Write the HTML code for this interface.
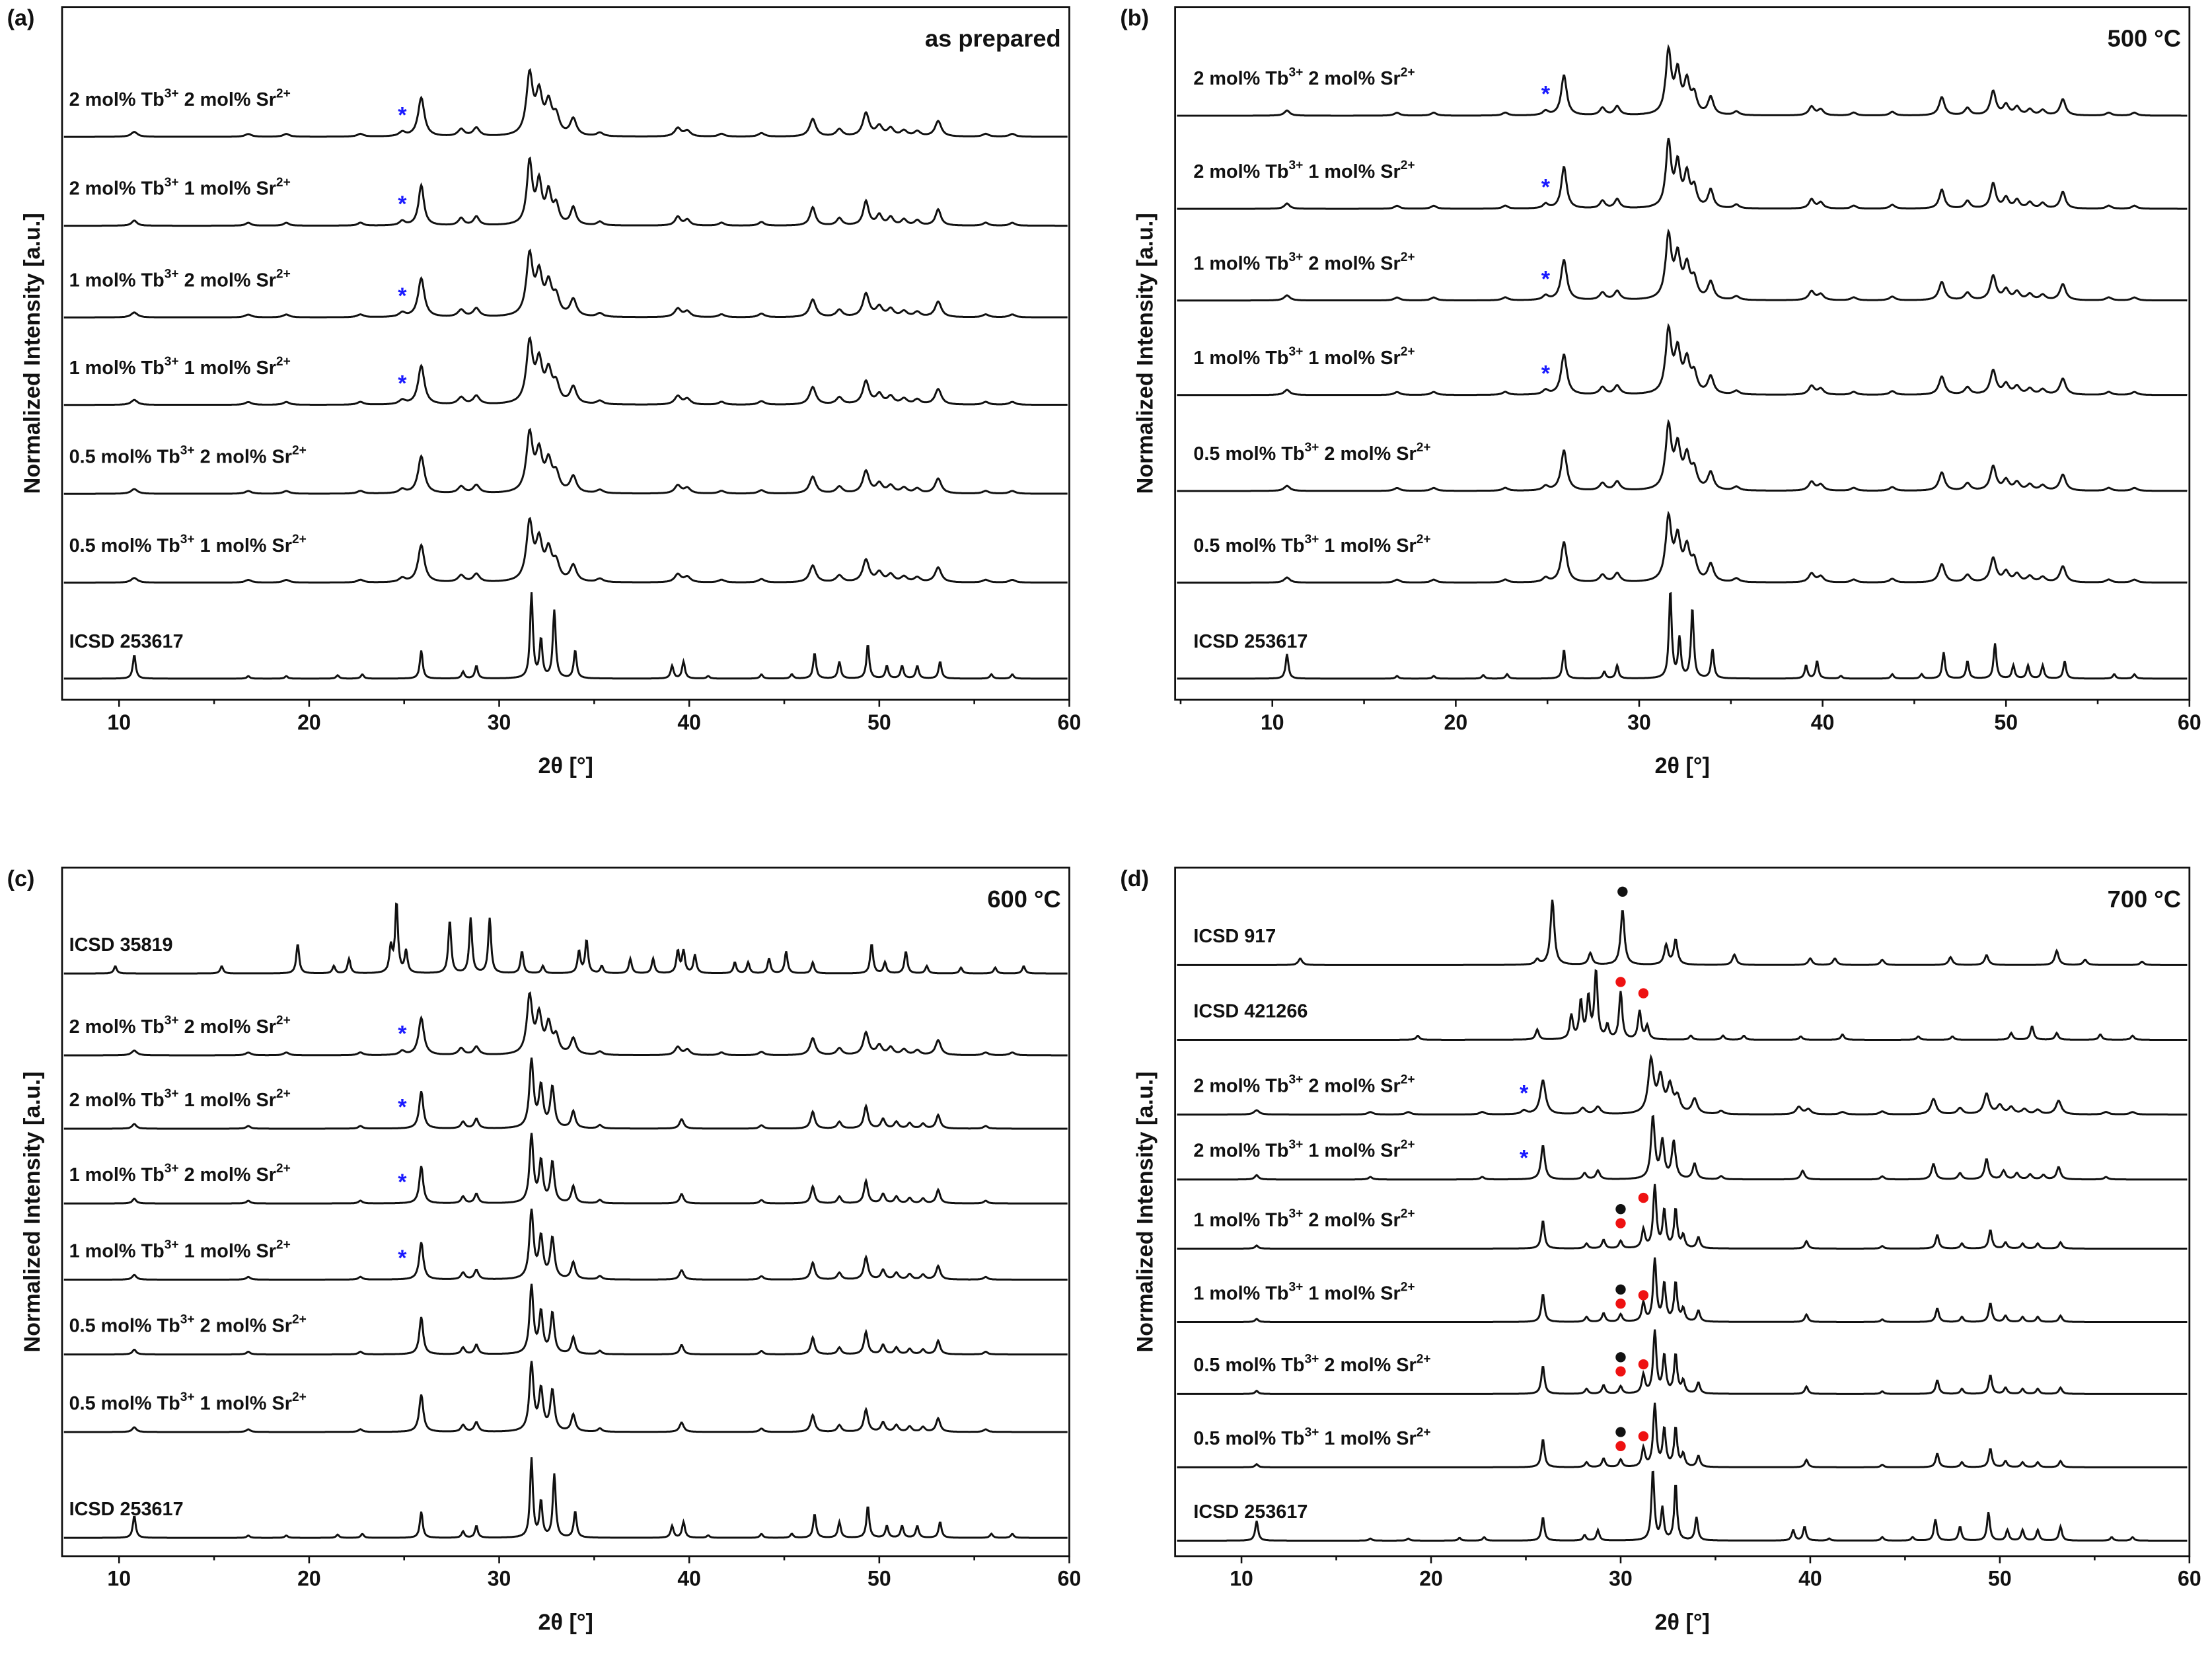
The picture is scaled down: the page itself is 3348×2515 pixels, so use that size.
<!DOCTYPE html>
<html><head><meta charset="utf-8">
<style>
html,body{margin:0;padding:0;background:#fff;}
svg{display:block;}
text{font-family:"Liberation Sans",Arial,sans-serif;font-weight:bold;fill:#111;}
</style></head>
<body>
<svg id="fig" xmlns="http://www.w3.org/2000/svg" width="3348" height="2515" viewBox="0 0 1568 1178" preserveAspectRatio="none"></svg>
<script>
// ---- data: peak positions (2theta) and relative heights ----
const xTicks = [10, 20, 30, 40, 50, 60];
const xTickLabels = ["10", "20", "30", "40", "50", "60"];

const icsd253617Pos = [10.8,16.8,18.8,21.5,22.8,25.9,28.1,28.8,31.7,32.2,32.9,34.0,39.1,39.7,41.0,43.8,45.4,46.6,47.9,49.4,50.4,51.2,52.0,53.2,55.9,57.0];
const icsd253617H   = [0.28,0.03,0.03,0.04,0.05,0.33,0.08,0.15,1.0,0.45,0.8,0.33,0.15,0.2,0.03,0.05,0.05,0.3,0.2,0.4,0.15,0.15,0.15,0.2,0.05,0.05];

const sampleBroadPos = [10.8,16.8,18.8,22.7,24.9,25.9,28.0,28.8,31.6,32.1,32.6,33.0,33.9,35.3,39.4,39.9,41.7,43.8,46.5,47.9,49.3,50.0,50.6,51.3,52.0,53.1,55.6,57.0];
const sampleBroadH   = [0.07,0.04,0.04,0.04,0.06,0.55,0.1,0.12,0.85,0.55,0.42,0.25,0.24,0.05,0.12,0.08,0.04,0.05,0.25,0.1,0.33,0.14,0.11,0.08,0.07,0.22,0.04,0.04];

const sampleSharpPos = [10.8,16.8,22.7,25.9,28.1,28.8,31.7,32.2,32.8,33.9,35.3,39.6,43.8,46.5,47.9,49.3,50.2,50.9,51.6,52.3,53.1,55.6];
const sampleSharpH   = [0.07,0.04,0.04,0.55,0.1,0.14,1.0,0.6,0.6,0.25,0.05,0.14,0.05,0.25,0.1,0.33,0.14,0.1,0.08,0.07,0.2,0.04];

const sample700Pos = [10.8,25.9,28.2,29.1,30.0,31.2,31.8,32.3,32.9,33.3,34.1,39.8,43.8,46.7,48.0,49.5,50.3,51.2,52.0,53.2];
const sample700H   = [0.05,0.45,0.08,0.14,0.12,0.3,1.0,0.6,0.62,0.2,0.18,0.12,0.04,0.22,0.08,0.3,0.1,0.08,0.08,0.1];

const icsd35819Pos = [9.8,15.4,19.4,21.3,22.1,24.3,24.6,25.1,27.4,28.5,29.5,31.2,32.3,34.2,34.6,35.4,36.9,38.1,39.4,39.7,40.3,42.4,43.1,44.2,45.1,46.5,49.6,50.3,51.4,52.5,54.3,56.1,57.6];
const icsd35819H   = [0.1,0.1,0.4,0.1,0.2,0.35,0.95,0.3,0.72,0.75,0.75,0.3,0.1,0.3,0.45,0.1,0.2,0.2,0.3,0.3,0.25,0.15,0.15,0.2,0.3,0.15,0.4,0.15,0.3,0.1,0.08,0.08,0.1];

const icsd917Pos = [13.1,25.6,26.4,28.4,30.1,32.4,32.9,36.0,40.0,41.3,43.8,47.4,49.3,53.0,54.5,57.5];
const icsd917H   = [0.1,0.08,1.0,0.18,0.85,0.3,0.38,0.16,0.1,0.1,0.08,0.12,0.15,0.22,0.08,0.05];

const icsd421266Pos = [19.3,25.6,27.4,27.9,28.3,28.7,29.3,30.0,31.0,31.4,33.7,35.4,36.5,39.5,41.7,45.7,47.5,50.6,51.7,53.0,55.3,57.0];
const icsd421266H   = [0.06,0.15,0.35,0.55,0.6,1.0,0.2,0.7,0.42,0.2,0.06,0.06,0.06,0.05,0.08,0.05,0.05,0.1,0.2,0.1,0.08,0.06];

// ---- rendering ----
const NS = "http://www.w3.org/2000/svg";
const svg = document.getElementById("fig");
function mk(tag, attrs, parent){const e=document.createElementNS(NS,tag);for(const k in attrs)e.setAttribute(k,attrs[k]);(parent||svg).appendChild(e);return e;}

function profile(pos, h, w, x0, x1){
  const pts=[];
  for(let x=x0;x<=x1+1e-9;x+=0.04){
    let y=0;
    for(let i=0;i<pos.length;i++){const d=(x-pos[i])/w;y+=h[i]/(1+d*d);}
    pts.push([x,y]);
  }
  return pts;
}

const panels = [
  {id:"a",L:44,R:758,T:5,B:496,x0:7,x1:60,title:"as prepared",
   traces:[
    ["2 mol% Tb","2 mol% Sr",97,sampleBroadPos,sampleBroadH,0.2,50,true],
    ["2 mol% Tb","1 mol% Sr",160,sampleBroadPos,sampleBroadH,0.17,52,true],
    ["1 mol% Tb","2 mol% Sr",225,sampleBroadPos,sampleBroadH,0.2,50,true],
    ["1 mol% Tb","1 mol% Sr",287,sampleBroadPos,sampleBroadH,0.2,50,true],
    ["0.5 mol% Tb","2 mol% Sr",350,sampleBroadPos,sampleBroadH,0.2,48,false],
    ["0.5 mol% Tb","1 mol% Sr",413,sampleBroadPos,sampleBroadH,0.2,48,false],
    ["ICSD 253617",null,481,icsd253617Pos,icsd253617H,0.09,60,false]]},
  {id:"b",L:833,R:1552,T:5,B:496,x0:4.7,x1:60,title:"500 °C",
   traces:[
    ["2 mol% Tb","2 mol% Sr",82,sampleBroadPos,sampleBroadH,0.18,52,true],
    ["2 mol% Tb","1 mol% Sr",148,sampleBroadPos,sampleBroadH,0.17,54,true],
    ["1 mol% Tb","2 mol% Sr",213,sampleBroadPos,sampleBroadH,0.19,52,true],
    ["1 mol% Tb","1 mol% Sr",280,sampleBroadPos,sampleBroadH,0.19,52,true],
    ["0.5 mol% Tb","2 mol% Sr",348,sampleBroadPos,sampleBroadH,0.19,52,false],
    ["0.5 mol% Tb","1 mol% Sr",413,sampleBroadPos,sampleBroadH,0.19,52,false],
    ["ICSD 253617",null,481,icsd253617Pos,icsd253617H,0.09,62,false]]},
  {id:"c",L:44,R:758,T:615,B:1103,x0:7,x1:60,title:"600 °C",
   traces:[
    ["ICSD 35819",null,690,icsd35819Pos,icsd35819H,0.09,52,false],
    ["2 mol% Tb","2 mol% Sr",748,sampleBroadPos,sampleBroadH,0.17,48,true],
    ["2 mol% Tb","1 mol% Sr",800,sampleSharpPos,sampleSharpH,0.13,48,true],
    ["1 mol% Tb","2 mol% Sr",853,sampleSharpPos,sampleSharpH,0.12,48,true],
    ["1 mol% Tb","1 mol% Sr",907,sampleSharpPos,sampleSharpH,0.13,48,true],
    ["0.5 mol% Tb","2 mol% Sr",960,sampleSharpPos,sampleSharpH,0.12,48,false],
    ["0.5 mol% Tb","1 mol% Sr",1015,sampleSharpPos,sampleSharpH,0.13,48,false],
    ["ICSD 253617",null,1090,icsd253617Pos,icsd253617H,0.09,56,false]]},
  {id:"d",L:833,R:1552,T:615,B:1103,x0:6.5,x1:60,title:"700 °C",
   traces:[
    ["ICSD 917",null,684,icsd917Pos,icsd917H,0.12,46,false],
    ["ICSD 421266",null,737,icsd421266Pos,icsd421266H,0.1,48,false],
    ["2 mol% Tb","2 mol% Sr",790,sampleBroadPos,sampleBroadH,0.17,44,true],
    ["2 mol% Tb","1 mol% Sr",836,sampleSharpPos,sampleSharpH,0.12,44,true],
    ["1 mol% Tb","2 mol% Sr",885,sample700Pos,sample700H,0.1,44,false],
    ["1 mol% Tb","1 mol% Sr",937,sample700Pos,sample700H,0.1,44,false],
    ["0.5 mol% Tb","2 mol% Sr",988,sample700Pos,sample700H,0.1,44,false],
    ["0.5 mol% Tb","1 mol% Sr",1040,sample700Pos,sample700H,0.1,44,false],
    ["ICSD 253617",null,1092,icsd253617Pos,icsd253617H,0.09,50,false]]}
];

panels.forEach(p=>{
  const g=mk("g",{});
  
  
  const sx=v=>p.L+(v-p.x0)/(p.x1-p.x0)*(p.R-p.L);
  const frame=mk("rect",{x:p.L,y:p.T,width:p.R-p.L,height:p.B-p.T,fill:"none",stroke:"#111","stroke-width":1.3},g);
  
  
  for(let v=Math.ceil(p.x0);v<=p.x1;v++){
    const major=v%10===0, mid=v%5===0;
    if(!major&&!mid) continue;
    const t=mk("line",{x1:sx(v),x2:sx(v),y1:p.B,y2:p.B+(major?5:3),stroke:"#111","stroke-width":1.2},g);
    
    
  }
  xTicks.forEach((v,i)=>{
    const t=mk("text",{x:sx(v),y:p.B+21,"text-anchor":"middle","font-size":15},g);
    t.textContent=xTickLabels[i];
    
    
  });
  const xt=mk("text",{x:(p.L+p.R)/2,y:p.B+52,"text-anchor":"middle","font-size":16},g);
  xt.textContent="2θ [°]";
  
  
  const yc=(p.T+p.B)/2, yx=p.L-16;
  const yt=mk("text",{x:yx,y:yc,"text-anchor":"middle","font-size":16,transform:`rotate(-90 ${yx} ${yc})`},g);
  yt.textContent="Normalized Intensity [a.u.]";
  
  
  const pl=mk("text",{x:p.L-39,y:p.T+13,"font-size":16},g);
  pl.textContent="("+p.id+")";
  
  
  const tt=mk("text",{x:p.R-6,y:p.T+28,"text-anchor":"end","font-size":17},g);
  tt.textContent=p.title;
  
  

  p.traces.forEach(tr=>{
    const [a,b,base,pos,h,w,amp,star]=tr;
    const pts=profile(pos,h,w,p.x0+0.1,p.x1-0.1);
    let d="";
    pts.forEach((q,i)=>{d+=(i?"L":"M")+sx(q[0]).toFixed(1)+" "+(base-q[1]*amp).toFixed(1);});
    const path=mk("path",{d:d,fill:"none",stroke:"#111","stroke-width":1.4},g);
    
    
    const lx=p.L+(p.id==="a"||p.id==="c"?5:13), ly=base-(p.id==="c"||p.id==="d"?16:22);
    const lab=mk("text",{x:lx,y:ly,"font-size":13.5},g);
    
    
    if(b===null){lab.textContent=a;}
    else{
      lab.appendChild(document.createTextNode(a));
      const s1=mk("tspan",{"font-size":9,dy:-6},lab);s1.textContent="3+";
      const t2=mk("tspan",{dy:6},lab);t2.textContent=" "+b;
      const s2=mk("tspan",{"font-size":9,dy:-6},lab);s2.textContent="2+";
    }
    if(star){
      const st=mk("text",{x:sx(24.9),y:base-10,"text-anchor":"middle","font-size":16,style:"fill:#1a1aff"},g);
      st.textContent="*";
      
      
    }
  });
});

const pd=panels[3];
const sxd=v=>pd.L+(v-pd.x0)/(pd.x1-pd.x0)*(pd.R-pd.L);
const blackMarks=[[30.1,632],[30.0,857],[30.0,914],[30.0,962],[30.0,1015]];
const redMarks=[[30.0,696],[31.2,704],[30.0,867],[31.2,849],[30.0,924],[31.2,918],[30.0,972],[31.2,967],[30.0,1025],[31.2,1018]];
blackMarks.forEach(m=>{const c=mk("circle",{cx:sxd(m[0]),cy:m[1],r:3.6,fill:"#111"});
  
  });
redMarks.forEach(m=>{const c=mk("circle",{cx:sxd(m[0]),cy:m[1],r:3.6,fill:"#ee1111"});
  
  });
</script>
</body></html>
